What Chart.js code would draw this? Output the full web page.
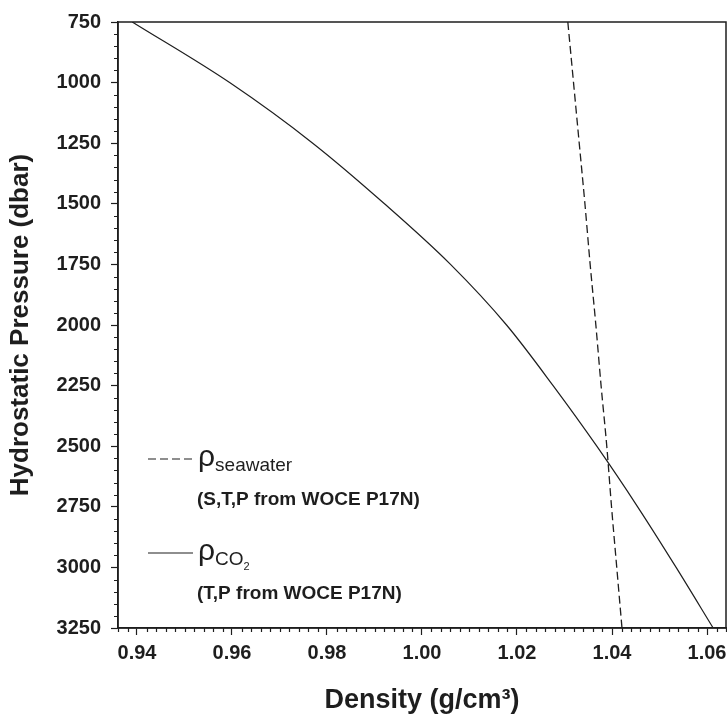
<!DOCTYPE html>
<html>
<head>
<meta charset="utf-8">
<script src="https://cdn.jsdelivr.net/npm/chart.js@4.4.1/dist/chart.umd.min.js"></script>
<style>
  html, body { margin: 0; padding: 0; background: #fff; }
  #wrap { width: 727px; height: 721px; }
</style>
</head>
<body>
<div id="wrap"><canvas id="densityChart"></canvas></div>
<script>
// hydrostatic pressure levels (dbar)
const pressure = [750, 1000, 1250, 1500, 1750, 2000, 2250, 2500, 2750, 3000, 3250];

// seawater density (S,T,P from WOCE P17N)
const seawaterDensity = [1.0307, 1.0319, 1.0331, 1.0343, 1.0354, 1.0366, 1.0377, 1.0389, 1.0399, 1.0410, 1.0421];

// CO2 density (T,P from WOCE P17N)
const co2Density = [0.9390, 0.9595, 0.9770, 0.9921, 1.0060, 1.0178, 1.0276, 1.0368, 1.0454, 1.0535, 1.0613];

// axis ticks
const xTicks = [0.94, 0.96, 0.98, 1.00, 1.02, 1.04, 1.06];
const yTicks = [750, 1000, 1250, 1500, 1750, 2000, 2250, 2500, 2750, 3000, 3250];

// legend text: symbol, subscript, sub-subscript, second line
const legendSymbols = ['ρ', 'ρ'];
const legendSubs = ['seawater', 'CO'];
const legendSubSubs = ['', '2'];
const legendNotes = ['(S,T,P from WOCE P17N)', '(T,P from WOCE P17N)'];

const INK = '#1e1e1e';
const FONT = '"Liberation Sans", Arial, sans-serif';

const toPoints = (xs, ys) => xs.map((x, i) => ({ x: x, y: ys[i] }));

const isMultiple = (v, step) => Math.abs(v / step - Math.round(v / step)) < 1e-6;

// box around the plot plus the short minor ticks
const frameAndMinorTicks = {
    id: 'frameAndMinorTicks',
    afterDraw(chart) {
        const { ctx, chartArea: a, scales } = chart;
        ctx.save();
        ctx.strokeStyle = INK;
        ctx.lineWidth = 1.5;
        ctx.strokeRect(a.left, a.top, a.right - a.left, a.bottom - a.top);

        ctx.lineWidth = 1.2;
        ctx.beginPath();
        for (let v = 750; v <= 3250; v += 50) {
            if (v % 250 === 0) continue;
            const y = Math.round(scales.y.getPixelForValue(v)) + 0.5;
            ctx.moveTo(a.left - 4, y);
            ctx.lineTo(a.left, y);
        }
        for (let i = 0; i <= 64; i++) {
            const v = 0.936 + i * 0.002;
            if (isMultiple(v, 0.02)) continue;
            const x = Math.round(scales.x.getPixelForValue(v)) + 0.5;
            ctx.moveTo(x, a.bottom);
            ctx.lineTo(x, a.bottom + 4);
        }
        ctx.stroke();
        ctx.restore();
    }
};

// hand-drawn legend inside the lower left of the plot
const legendBlock = {
    id: 'legendBlock',
    afterDatasetsDraw(chart) {
        const { ctx, chartArea: a } = chart;
        const x0 = a.left + 30;
        const x1 = a.left + 75;
        const tx = a.left + 80;
        const rows = [a.top + 437, a.top + 531];
        const dashes = [[8, 4], []];

        ctx.save();
        ctx.fillStyle = INK;
        ctx.strokeStyle = INK;
        ctx.lineWidth = 1.2;
        ctx.textBaseline = 'alphabetic';
        rows.forEach((y, i) => {
            ctx.setLineDash(dashes[i]);
            ctx.beginPath();
            ctx.moveTo(x0, y);
            ctx.lineTo(x1, y);
            ctx.stroke();
            ctx.setLineDash([]);

            ctx.font = 'normal 30px ' + FONT;
            ctx.fillText(legendSymbols[i], tx, y + 7);
            let sx = tx + ctx.measureText(legendSymbols[i]).width;

            ctx.font = 'normal 19px ' + FONT;
            ctx.fillText(legendSubs[i], sx, y + 12);
            sx += ctx.measureText(legendSubs[i]).width;

            if (legendSubSubs[i]) {
                ctx.font = 'normal 11px ' + FONT;
                ctx.fillText(legendSubSubs[i], sx, y + 17);
            }

            ctx.font = 'bold 19px ' + FONT;
            ctx.fillText(legendNotes[i], tx - 1, y + 46);
        });
        ctx.restore();
    }
};

new Chart(document.getElementById('densityChart'), {
    type: 'line',
    data: {
        datasets: [
            {
                label: 'seawater',
                data: toPoints(seawaterDensity, pressure),
                borderColor: INK,
                borderWidth: 1.3,
                borderDash: [8, 4],
                pointRadius: 0,
                cubicInterpolationMode: 'monotone',
                fill: false
            },
            {
                label: 'CO2',
                data: toPoints(co2Density, pressure),
                borderColor: INK,
                borderWidth: 1.2,
                pointRadius: 0,
                cubicInterpolationMode: 'monotone',
                fill: false
            }
        ]
    },
    options: {
        responsive: true,
        maintainAspectRatio: false,
        animation: false,
        layout: { padding: { top: 22, right: 1, left: 0, bottom: 0 } },
        plugins: {
            legend: { display: false },
            tooltip: { enabled: false }
        },
        scales: {
            x: {
                type: 'linear',
                min: 0.936,
                max: 1.064,
                afterFit: (scale) => {
                    scale.height = 93;
                    scale.paddingLeft = 0;
                    scale.paddingRight = 0;
                },
                afterBuildTicks: (scale) => {
                    scale.ticks = xTicks.map(v => ({ value: v }));
                },
                ticks: {
                    padding: 6,
                    color: INK,
                    font: { family: FONT, size: 20, weight: 'bold' },
                    callback: (v) => Number(v).toFixed(2)
                },
                grid: {
                    drawOnChartArea: false,
                    tickLength: 7,
                    tickColor: INK,
                    tickWidth: 1.2
                },
                border: { color: INK, width: 1.5 },
                title: {
                    display: true,
                    text: 'Density (g/cm³)',
                    color: INK,
                    font: { family: FONT, size: 27, weight: 'bold' },
                    padding: { top: 0, bottom: 4 }
                }
            },
            y: {
                type: 'linear',
                reverse: true,
                min: 750,
                max: 3250,
                afterFit: (scale) => {
                    scale.width = 118;
                    scale.paddingTop = 0;
                    scale.paddingBottom = 0;
                },
                afterBuildTicks: (scale) => {
                    scale.ticks = yTicks.map(v => ({ value: v }));
                },
                ticks: {
                    padding: 10,
                    color: INK,
                    font: { family: FONT, size: 20, weight: 'bold' },
                    callback: (v) => String(v)
                },
                grid: {
                    drawOnChartArea: false,
                    tickLength: 7,
                    tickColor: INK,
                    tickWidth: 1.2
                },
                border: { color: INK, width: 1.5 },
                title: {
                    display: true,
                    text: 'Hydrostatic Pressure (dbar)',
                    color: INK,
                    font: { family: FONT, size: 26, weight: 'bold' },
                    padding: { top: 5, bottom: 0 }
                }
            }
        }
    },
    plugins: [frameAndMinorTicks, legendBlock]
});
</script>
</body>
</html>
